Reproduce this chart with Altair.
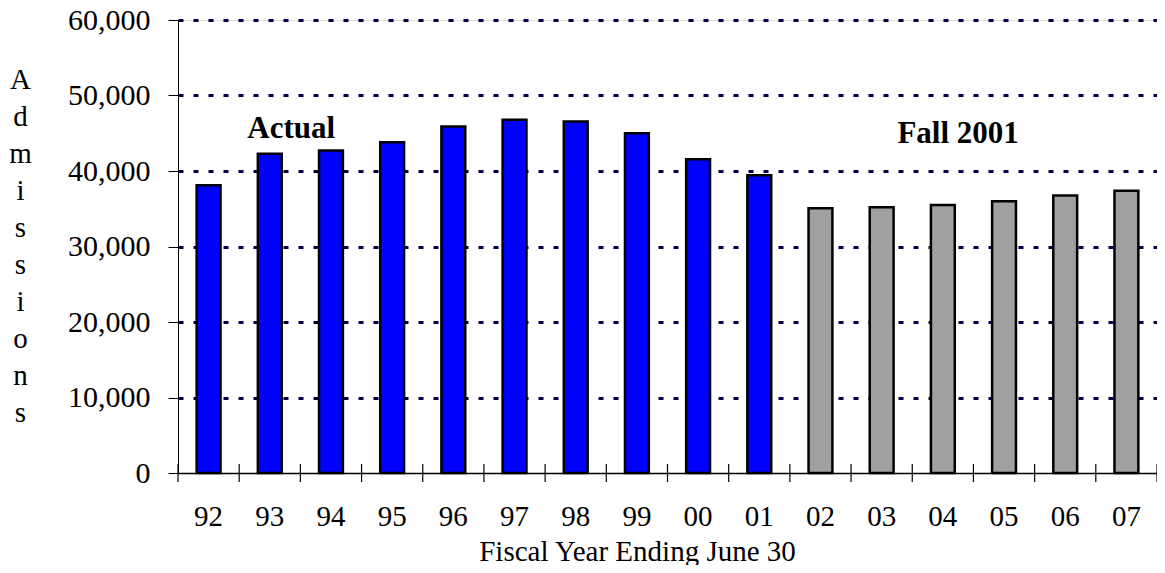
import altair as alt
import pandas as pd

years = ["92", "93", "94", "95", "96", "97", "98", "99", "00", "01",
         "02", "03", "04", "05", "06", "07"]
admissions = [38100, 42300, 42700, 43800, 45900, 46800, 46550, 45000, 41550, 39450,
              35050, 35200, 35500, 36000, 36750, 37400]
kinds = ["Actual"] * 10 + ["Fall 2001"] * 6

ann_labels = ["Actual", "Fall 2001"]
ann_years = ["93", "04"]
ann_values = [44400, 43700]

y_title = list("Admissions")
x_title = "Fiscal Year Ending June 30"

df = pd.DataFrame({"year": years, "admissions": admissions, "kind": kinds})
ann = pd.DataFrame({"year": ann_years, "admissions": ann_values, "label": ann_labels})

W, H = 979, 453
FONT = "Liberation Serif"

x_scale = alt.Scale(paddingInner=0, paddingOuter=0)
y_scale = alt.Scale(domain=[0, 60000], nice=False)

x_axis = alt.Axis(
    title=x_title, titleFont=FONT, titleFontSize=29, titleFontWeight="normal",
    titleColor="black", titleAlign="center", titleBaseline="alphabetic",
    titleX=459, titleY=87, titleAnchor="start",
    labelFont=FONT, labelFontSize=29, labelColor="black", labelAngle=0,
    labelBaseline="alphabetic", labelPadding=52,
    ticks=False, tickSize=0, domainColor="black", domainWidth=1.5, grid=False,
)
y_axis = alt.Axis(
    title=y_title, titleFont=FONT, titleFontSize=29, titleFontWeight="normal",
    titleColor="black", titleAngle=0, titleAlign="center", titleBaseline="alphabetic",
    titleX=-158, titleY=68, titleLineHeight=37, titleAnchor="start",
    labelFont=FONT, labelFontSize=30, labelColor="black", labelPadding=18,
    format=",d", values=[0, 10000, 20000, 30000, 40000, 50000, 60000],
    tickSize=10, tickColor="black", domainColor="black", domainWidth=1,
    grid=True, gridColor="#00004a", gridDash=[5, 10], gridWidth=3,
    gridOpacity={"condition": {"test": "datum.value === 0", "value": 0}, "value": 1},
)

bars = alt.Chart(df).mark_bar(
    stroke="black", strokeWidth=2.5, width=alt.RelativeBandSize(0.39)
).encode(
    x=alt.X("year:N", sort=years, scale=x_scale, axis=x_axis),
    y=alt.Y("admissions:Q", scale=y_scale, axis=y_axis),
    color=alt.Color("kind:N", scale=alt.Scale(domain=["Actual", "Fall 2001"],
                                              range=["#0000FF", "#A0A0A0"]), legend=None),
)

ticks = alt.Chart(df).mark_rule(color="black", strokeWidth=1.2).encode(
    x=alt.X("year:N", sort=years, bandPosition=0),
    y=alt.value(H - 9), y2=alt.value(H + 9),
)
last_tick = alt.Chart(df).transform_filter(
    alt.datum.year == years[-1]
).mark_rule(color="black", strokeWidth=1.2).encode(
    x=alt.X("year:N", sort=years, bandPosition=1),
    y=alt.value(H - 9), y2=alt.value(H + 9),
)


def ann_layer(label, band_pos):
    return alt.Chart(ann).transform_filter(
        alt.datum.label == label
    ).mark_text(
        font=FONT, fontSize=31, fontWeight="bold", color="black",
        align="center", baseline="alphabetic",
    ).encode(
        x=alt.X("year:N", sort=years, bandPosition=band_pos),
        y=alt.Y("admissions:Q"),
        text="label:N",
    )


chart = alt.layer(
    bars, ticks, last_tick, ann_layer("Actual", 0.85), ann_layer("Fall 2001", 0.75)
).properties(
    width=W, height=H,
    padding={"left": 170, "top": 12, "right": 0, "bottom": 92},
    autosize=alt.AutoSizeParams(type="none"),
).configure_view(stroke=None).configure(background="white")

chart.save("out.html", embed_options={"renderer": "svg", "actions": False})
